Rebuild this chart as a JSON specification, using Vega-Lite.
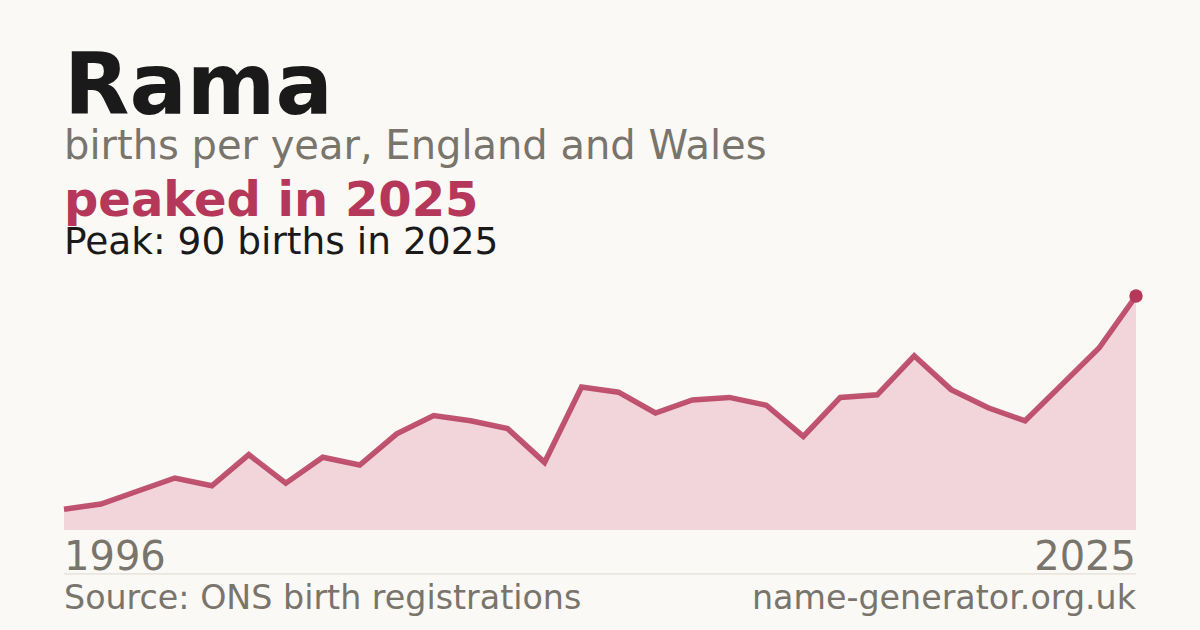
{
  "$schema": "https://vega.github.io/schema/vega-lite/v6.json",
  "width": 1200,
  "height": 630,
  "autosize": {"type": "none"},
  "padding": 0,
  "background": "#faf9f5",
  "config": {
    "view": {"stroke": null},
    "text": {"font": "DejaVu Sans", "baseline": "alphabetic"}
  },
  "datasets": {
    "births": [
      {"year": 1996, "births": 8},
      {"year": 1997, "births": 10},
      {"year": 1998, "births": 15},
      {"year": 1999, "births": 20},
      {"year": 2000, "births": 17},
      {"year": 2001, "births": 29},
      {"year": 2002, "births": 18},
      {"year": 2003, "births": 28},
      {"year": 2004, "births": 25},
      {"year": 2005, "births": 37},
      {"year": 2006, "births": 44},
      {"year": 2007, "births": 42},
      {"year": 2008, "births": 39},
      {"year": 2009, "births": 26},
      {"year": 2010, "births": 55},
      {"year": 2011, "births": 53},
      {"year": 2012, "births": 45},
      {"year": 2013, "births": 50},
      {"year": 2014, "births": 51},
      {"year": 2015, "births": 48},
      {"year": 2016, "births": 36},
      {"year": 2017, "births": 51},
      {"year": 2018, "births": 52},
      {"year": 2019, "births": 67},
      {"year": 2020, "births": 54},
      {"year": 2021, "births": 47},
      {"year": 2022, "births": 42},
      {"year": 2023, "births": 56},
      {"year": 2024, "births": 70},
      {"year": 2025, "births": 90}
    ],
    "labels": [
      {"year": 1996, "pos": 160.0, "label": "Rama", "kind": "title"},
      {"year": 1996, "pos": 142.7, "label": "births per year, England and Wales", "kind": "subtitle"},
      {"year": 1996, "pos": 120.8, "label": "peaked in 2025", "kind": "headline"},
      {"year": 1996, "pos": 106.2, "label": "Peak: 90 births in 2025", "kind": "note"},
      {"year": 1996, "pos": -15.4, "label": "1996", "kind": "axis"},
      {"year": 2025, "pos": -15.4, "label": "2025", "kind": "axis"},
      {"year": 1996, "pos": -30.2, "label": "Source: ONS birth registrations", "kind": "footer"},
      {"year": 2025, "pos": -30.2, "label": "name-generator.org.uk", "kind": "footer"}
    ]
  },
  "encoding": {
    "x": {
      "field": "year",
      "type": "quantitative",
      "scale": {"domain": [1994.2687, 2026.7313], "nice": false, "zero": false},
      "axis": null
    },
    "y": {
      "field": "births",
      "type": "quantitative",
      "scale": {"domain": [-38.4615, 203.846], "nice": false, "zero": false},
      "axis": null
    }
  },
  "layer": [
    {
      "data": {"name": "births"},
      "mark": {"type": "area", "color": "#f2d5db"},
      "encoding": {"y2": {"datum": 0}}
    },
    {
      "data": {"name": "births"},
      "mark": {"type": "line", "color": "#b5385a", "strokeWidth": 5.5, "opacity": 0.85, "strokeJoin": "miter"}
    },
    {
      "data": {"name": "births"},
      "transform": [{"filter": "datum.year === 2025"}],
      "mark": {"type": "circle", "color": "#b5385a", "size": 180, "opacity": 1}
    },
    {
      "data": {"values": [{"year": 1996, "end": 2025, "births": -16.9}]},
      "mark": {"type": "rule", "color": "#dcd8d0", "strokeWidth": 1},
      "encoding": {"x2": {"field": "end"}}
    },
    {
      "data": {"name": "labels"},
      "transform": [{"filter": "datum.kind === 'title'"}],
      "mark": {"type": "text", "align": "left", "fontSize": 85, "fontWeight": "bold", "color": "#1a1a1a"},
      "encoding": {"y": {"field": "pos", "type": "quantitative"}, "text": {"field": "label"}}
    },
    {
      "data": {"name": "labels"},
      "transform": [{"filter": "datum.kind === 'subtitle'"}],
      "mark": {"type": "text", "align": "left", "fontSize": 40, "color": "#79746c"},
      "encoding": {"y": {"field": "pos", "type": "quantitative"}, "text": {"field": "label"}}
    },
    {
      "data": {"name": "labels"},
      "transform": [{"filter": "datum.kind === 'headline'"}],
      "mark": {"type": "text", "align": "left", "fontSize": 48, "fontWeight": "bold", "color": "#b5385a"},
      "encoding": {"y": {"field": "pos", "type": "quantitative"}, "text": {"field": "label"}}
    },
    {
      "data": {"name": "labels"},
      "transform": [{"filter": "datum.kind === 'note'"}],
      "mark": {"type": "text", "align": "left", "fontSize": 37.5, "color": "#1a1a1a"},
      "encoding": {"y": {"field": "pos", "type": "quantitative"}, "text": {"field": "label"}}
    },
    {
      "data": {"name": "labels"},
      "transform": [{"filter": "datum.kind === 'axis' && datum.year === 1996"}],
      "mark": {"type": "text", "align": "left", "fontSize": 40, "color": "#79746c"},
      "encoding": {"y": {"field": "pos", "type": "quantitative"}, "text": {"field": "label"}}
    },
    {
      "data": {"name": "labels"},
      "transform": [{"filter": "datum.kind === 'axis' && datum.year === 2025"}],
      "mark": {"type": "text", "align": "right", "fontSize": 40, "color": "#79746c"},
      "encoding": {"y": {"field": "pos", "type": "quantitative"}, "text": {"field": "label"}}
    },
    {
      "data": {"name": "labels"},
      "transform": [{"filter": "datum.kind === 'footer' && datum.year === 1996"}],
      "mark": {"type": "text", "align": "left", "fontSize": 33.3, "color": "#79746c"},
      "encoding": {"y": {"field": "pos", "type": "quantitative"}, "text": {"field": "label"}}
    },
    {
      "data": {"name": "labels"},
      "transform": [{"filter": "datum.kind === 'footer' && datum.year === 2025"}],
      "mark": {"type": "text", "align": "right", "fontSize": 33.3, "color": "#79746c"},
      "encoding": {"y": {"field": "pos", "type": "quantitative"}, "text": {"field": "label"}}
    }
  ]
}
